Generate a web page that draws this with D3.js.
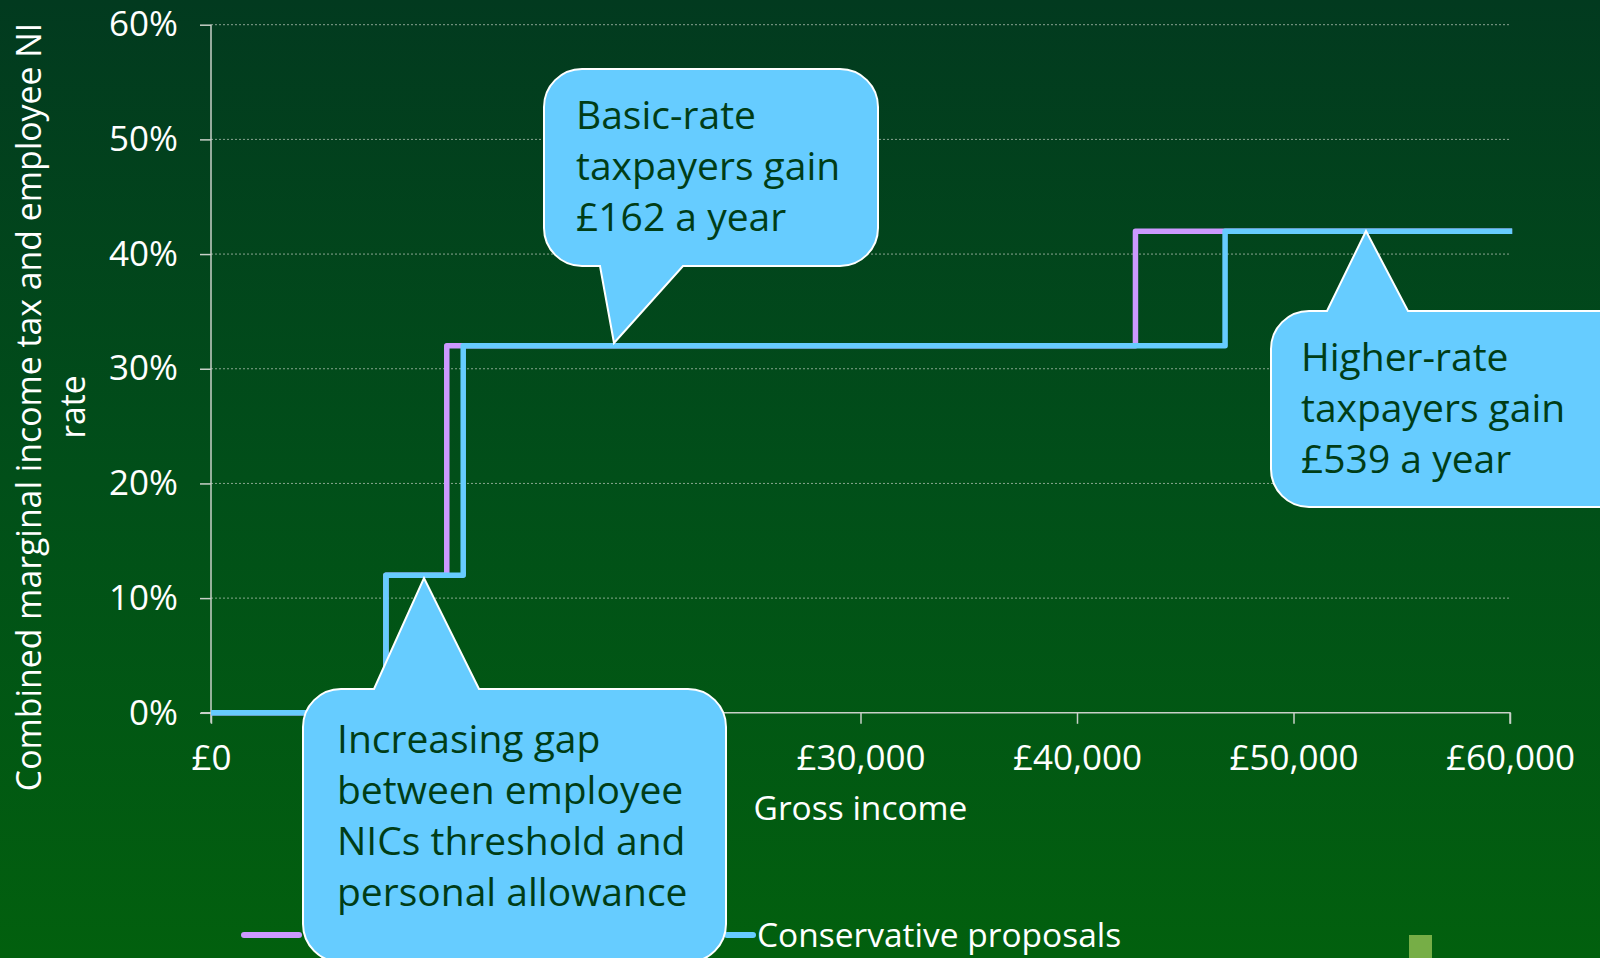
<!DOCTYPE html>
<html>
<head>
<meta charset="utf-8">
<script src="https://cdn.jsdelivr.net/npm/d3@7"></script>
<style>
  html, body { margin: 0; padding: 0; }
  body { width: 1600px; height: 958px; overflow: hidden; }
  text { font-family: "Open Sans", sans-serif; }
</style>
</head>
<body>
<div class="chart"></div>
<script>
// data
var incomeTicks = [0, 10000, 20000, 30000, 40000, 50000, 60000]
var rateTicks = [0, 10, 20, 30, 40, 50, 60]

// step points: income where the rate starts, and the rate (%)
var currentIncome = [0, 8080, 10890, 42700, 60100]
var currentRate   = [0, 12, 32, 42, 42]
var conservativeIncome = [0, 8080, 11650, 46840, 60100]
var conservativeRate   = [0, 12, 32, 42, 42]

var seriesNames = ["Current plans", "Conservative proposals"]
var seriesColors = ["#cc99ff", "#66ccff"]

var width = 1600,
    height = 958
var margin = {left: 211, top: 24.7, right: 90, bottom: 245}

var svg = d3.select(".chart")
  .append("svg")
    .attr("width", width)
    .attr("height", height)

// background gradient
var defs = svg.append("defs")
var grad = defs.append("linearGradient")
    .attr("id", "bg")
    .attr("x1", 0).attr("y1", 0).attr("x2", 0).attr("y2", 1)
grad.append("stop").attr("offset", "0%").attr("stop-color", "#023a1f")
grad.append("stop").attr("offset", "50%").attr("stop-color", "#014f19")
grad.append("stop").attr("offset", "100%").attr("stop-color", "#02600e")

svg.append("rect")
    .attr("width", width)
    .attr("height", height)
    .attr("fill", "url(#bg)")

var x = d3.scaleLinear()
    .domain([0, 60000])
    .range([margin.left, 1510])

var y = d3.scaleLinear()
    .domain([0, 60])
    .range([712.8, margin.top])

// gridlines
svg.append("g")
  .selectAll("line")
  .data(rateTicks.filter(function(d){ return d > 0 }))
  .enter()
  .append("line")
    .attr("x1", x(0))
    .attr("x2", x(60000))
    .attr("y1", function(d){ return y(d) })
    .attr("y2", function(d){ return y(d) })
    .attr("stroke", "#b8c4b8")
    .attr("stroke-opacity", 0.75)
    .attr("stroke-width", 1)
    .attr("stroke-dasharray", "2,2")

// y axis
var yAxis = svg.append("g")
    .attr("transform", "translate(" + x(0) + ",0)")
    .call(d3.axisLeft(y)
      .tickValues(rateTicks)
      .tickSize(11)
      .tickPadding(22)
      .tickFormat(function(d){ return d + "%" }))
yAxis.select(".domain").attr("stroke", "#c8d0c8").attr("stroke-width", 1.5)
      .attr("d", "M0," + (y(0) + 10) + "V" + y(60))
yAxis.selectAll(".tick line").attr("stroke", "#c8d0c8").attr("stroke-width", 1.5)
yAxis.selectAll(".tick text")
    .attr("fill", "white")
    .style("font-size", "35px")
    .style("font-family", "Open Sans")

// x axis
var xAxis = svg.append("g")
    .attr("transform", "translate(0," + y(0) + ")")
    .call(d3.axisBottom(x)
      .tickValues(incomeTicks)
      .tickSize(11)
      .tickPadding(21)
      .tickFormat(function(d){ return "£" + d3.format(",")(d) }))
xAxis.select(".domain").attr("stroke", "#c8d0c8").attr("stroke-width", 1.5)
      .attr("d", "M" + (x(0) - 10) + ",0H" + x(60000) + "V11")
xAxis.selectAll(".tick line").attr("stroke", "#c8d0c8").attr("stroke-width", 1.5)
xAxis.selectAll(".tick text")
    .attr("fill", "white")
    .style("font-size", "35px")
    .style("font-family", "Open Sans")

// axis titles
svg.append("text")
    .attr("x", x(30000))
    .attr("y", 820)
    .attr("text-anchor", "middle")
    .attr("fill", "white")
    .style("font-size", "33.5px")
    .text("Gross income")

var yTitle = svg.append("text")
    .attr("transform", "translate(41,407) rotate(-90)")
    .attr("text-anchor", "middle")
    .attr("fill", "white")
    .style("font-size", "33.8px")
yTitle.append("tspan").attr("x", 0).attr("y", 0)
    .text("Combined marginal income tax and employee NI")
yTitle.append("tspan").attr("x", 0).attr("y", 44)
    .text("rate")

// step lines
var line = d3.line()
    .x(function(d){ return x(d[0]) })
    .y(function(d){ return y(d[1]) })
    .curve(d3.curveStepAfter)

var series = [
  d3.zip(currentIncome, currentRate),
  d3.zip(conservativeIncome, conservativeRate)
]

svg.append("g")
  .selectAll("path")
  .data(series)
  .enter()
  .append("path")
    .attr("d", line)
    .attr("fill", "none")
    .attr("stroke", function(d, i){ return seriesColors[i] })
    .attr("stroke-width", 5.5)
    .attr("stroke-linejoin", "round")

// legend
var legendX = [244, 727]
var legend = svg.append("g")
  .selectAll("g")
  .data(seriesNames)
  .enter()
  .append("g")
    .attr("transform", function(d, i){ return "translate(" + legendX[i] + ",935)" })
legend.append("line")
    .attr("x1", 0).attr("x2", function(d, i){ return i == 0 ? 55 : 26 })
    .attr("stroke", function(d, i){ return seriesColors[i] })
    .attr("stroke-width", 6)
    .attr("stroke-linecap", "round")
legend.append("text")
    .attr("x", function(d, i){ return i == 0 ? 60 : 30 })
    .attr("y", 12)
    .attr("fill", "white")
    .style("font-size", "33.5px")
    .text(function(d){ return d })

// small square bottom right
svg.append("rect")
    .attr("x", 1409).attr("y", 935)
    .attr("width", 23).attr("height", 23)
    .attr("fill", "#76ae46")

// callouts
function callout(box, tail, lines, textX, firstBaseline) {
  var r = 38
  var l = box[0], t = box[1], rr = box[2], b = box[3]
  var p = d3.path()
  p.moveTo(l + r, t)
  if (tail.side == "top") {
    p.lineTo(tail.a, t)
    p.lineTo(tail.tip[0], tail.tip[1])
    p.lineTo(tail.b, t)
  }
  p.lineTo(rr - r, t)
  p.arcTo(rr, t, rr, t + r, r)
  p.lineTo(rr, b - r)
  p.arcTo(rr, b, rr - r, b, r)
  if (tail.side == "bottom") {
    p.lineTo(tail.b, b)
    p.lineTo(tail.tip[0], tail.tip[1])
    p.lineTo(tail.a, b)
  }
  p.lineTo(l + r, b)
  p.arcTo(l, b, l, b - r, r)
  p.lineTo(l, t + r)
  p.arcTo(l, t, l + r, t, r)
  p.closePath()

  var g = svg.append("g")
  g.append("path")
    .attr("d", p.toString())
    .attr("fill", "#66ccff")
    .attr("stroke", "white")
    .attr("stroke-width", 2)
  g.selectAll("text")
    .data(lines)
    .enter()
    .append("text")
      .attr("x", textX)
      .attr("y", function(d, i){ return firstBaseline + i * 51 })
      .attr("fill", "#003d17")
      .style("font-size", "39px")
      .text(function(d){ return d })
}

callout([544, 69, 878, 266], {side: "bottom", a: 600, b: 683, tip: [614, 343]},
  ["Basic-rate", "taxpayers gain", "£162 a year"], 576, 129)

callout([1271, 311, 1640, 507], {side: "top", a: 1327, b: 1408, tip: [1366, 231]},
  ["Higher-rate", "taxpayers gain", "£539 a year"], 1301, 371)

callout([303, 689, 726, 962], {side: "top", a: 374, b: 479, tip: [424, 578]},
  ["Increasing gap", "between employee", "NICs threshold and", "personal allowance"], 337, 753)
</script>
</body>
</html>
